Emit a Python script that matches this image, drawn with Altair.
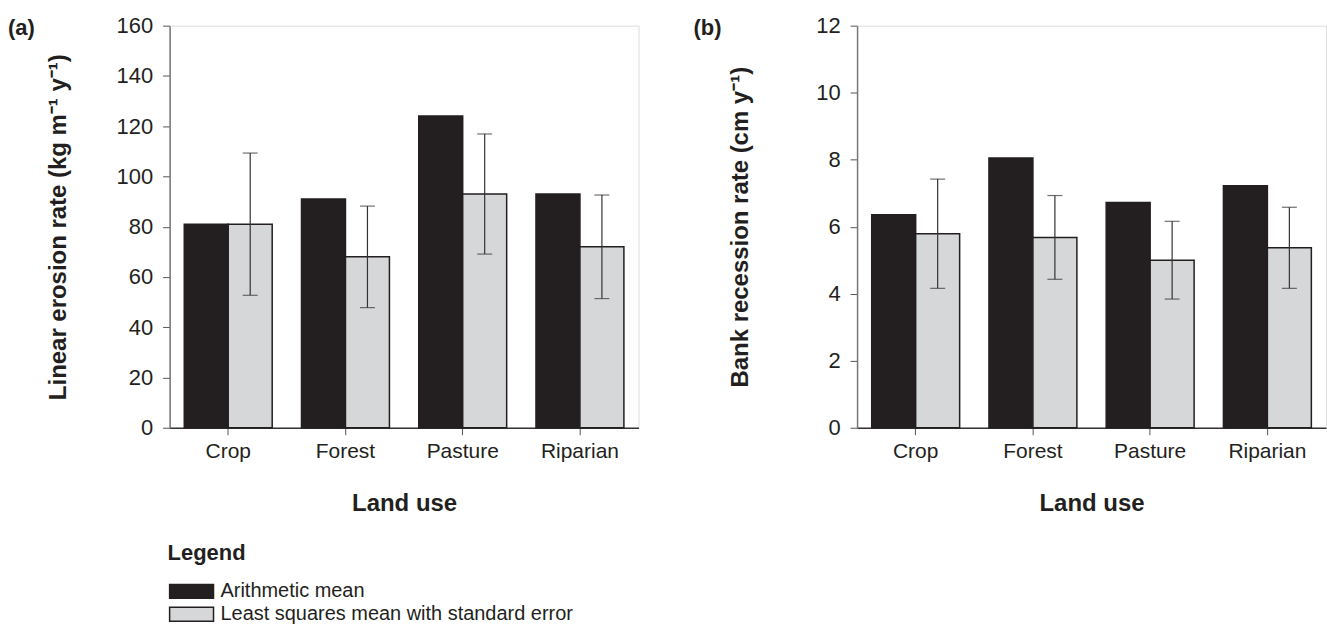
import altair as alt
import pandas as pd

# Categories and series
LAND_USE = ["Crop", "Forest", "Pasture", "Riparian"]
SERIES = ["Arithmetic mean", "Least squares mean with standard error"]

# (a) Linear erosion rate, kg m-1 y-1
EROSION_ARITH = [81, 91, 124, 93]
EROSION_LS = [81, 68, 93, 72]
EROSION_SE = [28.3, 20.2, 23.9, 20.6]

# (b) Bank recession rate, cm y-1
RECESSION_ARITH = [6.36, 8.05, 6.72, 7.22]
RECESSION_LS = [5.79, 5.68, 5.00, 5.37]
RECESSION_SE = [1.63, 1.25, 1.16, 1.21]

DARK = "#231f20"
LIGHT = "#d6d7d9"
FONT = "Liberation Sans"


def make_frame(arith, ls, se):
    rows = []
    for i, land in enumerate(LAND_USE):
        rows.append({"land": land, "series": SERIES[0], "value": arith[i], "se": 0})
        rows.append({"land": land, "series": SERIES[1], "value": ls[i], "se": se[i]})
    return pd.DataFrame(rows)


legend_def = alt.Legend(
    title="Legend",
    orient="none",
    legendX=-2,
    legendY=519,
    symbolType="M-3.143,-1H3.143V1H-3.143Z",
    symbolSize=196,
    symbolOffset=14,
    symbolStrokeColor=DARK,
    symbolStrokeWidth=1.5,
    labelOffset=19,
    labelLimit=0,
    labelFont=FONT,
    labelFontSize=20,
    labelColor=DARK,
    titleFont=FONT,
    titleFontSize=22,
    titleFontWeight="bold",
    titleColor=DARK,
    titlePadding=16,
    rowPadding=3,
)


def panel(df, y_title, y_max, minor_step, major_step, tag, tag_dx, title_pad):
    x_enc = alt.X(
        "land:N",
        sort=LAND_USE,
        title="Land use",
        scale=alt.Scale(paddingInner=0.25, paddingOuter=0.125),
        axis=alt.Axis(
            labelAngle=0,
            labelFont=FONT,
            labelFontSize=21,
            labelColor=DARK,
            labelPadding=6,
            tickSize=7,
            tickColor="#555",
            domainColor="#333",
            domainWidth=1.5,
            titleFont=FONT,
            titleFontSize=24,
            titleFontWeight="bold",
            titleColor=DARK,
            titlePadding=30,
        ),
    )
    xoff = alt.XOffset(
        "series:N", sort=SERIES,
        scale=alt.Scale(domain=SERIES, paddingInner=0, paddingOuter=0),
    )
    y_scale = alt.Scale(domain=[0, y_max], nice=False, zero=True)
    y_axis = alt.Axis(
        values=list(range(0, y_max + 1, minor_step)),
        labelExpr=f"datum.value % {major_step} === 0 ? datum.label : ''",
        tickSize={"condition": {"test": f"datum.value % {major_step} === 0", "value": 7}, "value": 4},
        tickColor="#555",
        domainColor="#777",
        domainWidth=1.5,
        grid=False,
        labelFont=FONT,
        labelFontSize=22,
        labelColor=DARK,
        labelPadding=10,
        titleFont=FONT,
        titleFontSize=24,
        titleFontWeight="bold",
        titleColor=DARK,
        titlePadding=title_pad,
    )

    base = alt.Chart(df)
    bars = base.mark_bar(stroke=DARK, strokeWidth=1.5).encode(
        x=x_enc,
        xOffset=xoff,
        y=alt.Y("value:Q", scale=y_scale, title=y_title, axis=y_axis),
        fill=alt.Fill(
            "series:N",
            scale=alt.Scale(domain=SERIES, range=[DARK, LIGHT]),
            legend=legend_def,
        ),
    )

    err = base.transform_filter(alt.datum.series == SERIES[1]).transform_calculate(
        lo="datum.value - datum.se", hi="datum.value + datum.se"
    )
    stem = err.mark_rule(color="#333", strokeWidth=1.2).encode(
        x=alt.X("land:N", sort=LAND_USE),
        xOffset=xoff,
        y=alt.Y("lo:Q", scale=y_scale),
        y2="hi:Q",
    )
    cap_lo = err.mark_tick(color="#333", size=15, thickness=1.2).encode(
        x=alt.X("land:N", sort=LAND_USE), xOffset=xoff, y=alt.Y("lo:Q", scale=y_scale)
    )
    cap_hi = err.mark_tick(color="#333", size=15, thickness=1.2).encode(
        x=alt.X("land:N", sort=LAND_USE), xOffset=xoff, y=alt.Y("hi:Q", scale=y_scale)
    )

    return alt.layer(bars, stem, cap_lo, cap_hi).properties(
        width=470,
        height=403,
        title=alt.TitleParams(
            tag,
            anchor="start",
            frame="group",
            baseline="top",
            offset=7,
            dx=tag_dx,
            dy=32,
            font=FONT,
            fontSize=22,
            fontWeight="bold",
            color=DARK,
        ),
    )


left = panel(
    make_frame(EROSION_ARITH, EROSION_LS, EROSION_SE),
    "Linear erosion rate (kg m\u207b\u00b9 y\u207b\u00b9)",
    160, 10, 20, "(a)", -162, 46,
)
right = panel(
    make_frame(RECESSION_ARITH, RECESSION_LS, RECESSION_SE),
    "Bank recession rate (cm y\u207b\u00b9)",
    12, 1, 2, "(b)", -164, 63,
)

chart = (
    alt.hconcat(left, right, spacing=53)
    .properties(padding={"left": 7, "top": 13, "right": 0, "bottom": 0})
    .configure_view(stroke="#777", strokeWidth=1.5)
    .configure(background="white")
)

chart.save("out.html", embed_options={"renderer": "svg", "actions": False})
